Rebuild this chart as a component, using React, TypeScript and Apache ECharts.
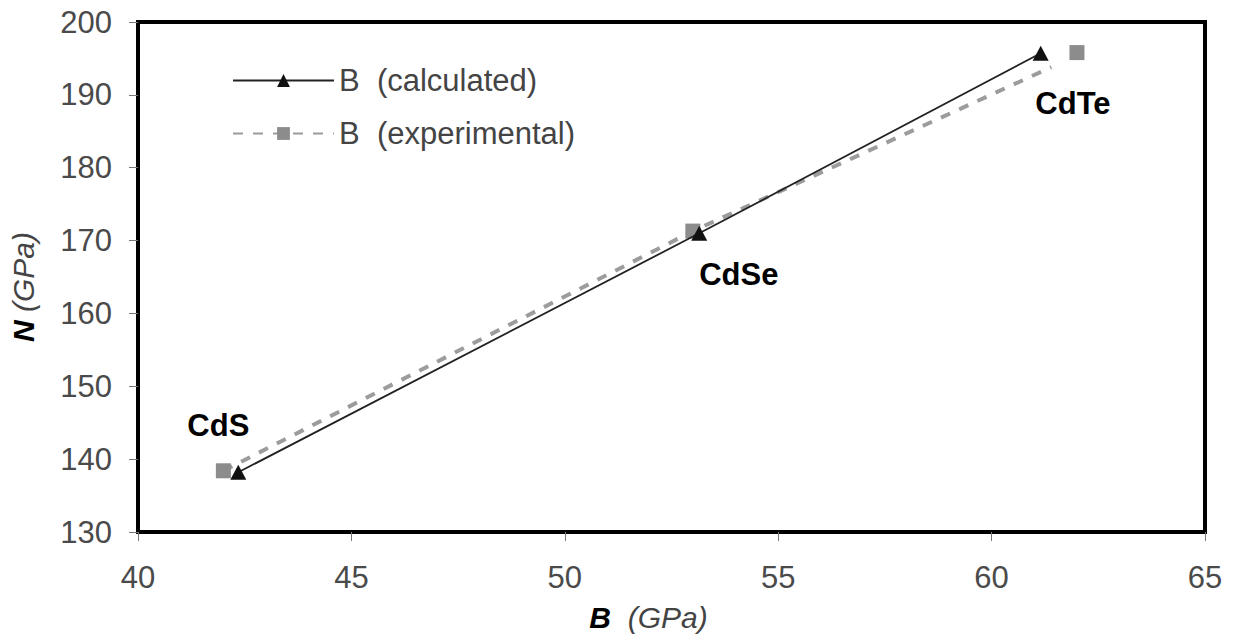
import React, { useEffect, useRef } from "react";
import * as echarts from "echarts";

const compounds = ["CdS", "CdSe", "CdTe"];
const calcB = [42.35, 53.15, 61.15];
const calcN = [138.2, 171.0, 195.7];
const expB = [42.0, 53.0, 62.0];
const expN = [138.4, 171.3, 195.8];
// end of the dashed experimental trend line (it stops short of the CdTe point)
const expLineEnd = [61.4, 193.8];
const xTicks = { min: 40, max: 65, interval: 5 };
const yTicks = { min: 130, max: 200, interval: 10 };
const labelOffsets: number[][] = [
  [-5, -45],
  [46, 43],
  [-4, 51],
];

const FONT = "'Liberation Sans', Arial, sans-serif";

export default function App() {
  const ref = useRef<HTMLDivElement>(null);
  useEffect(() => {
    if (!ref.current) return;
    const chart = echarts.init(ref.current, undefined, { renderer: "svg" });
    const labelFor = (i: number) => ({
      show: true,
      formatter: compounds[i],
      position: "inside",
      offset: labelOffsets[i],
      fontFamily: FONT,
      fontWeight: "bold",
      fontSize: 31,
      color: "#000",
    });
    const expData: any[] = [
      { value: [expB[0], expN[0]], label: labelFor(0) },
      { value: [expB[1], expN[1]], label: labelFor(1) },
      { value: expLineEnd, symbol: "none" },
      { value: ["-", "-"] },
      { value: [expB[2], expN[2]], label: labelFor(2) },
    ];
    const calcData = calcB.map((b, i) => [b, calcN[i]]);
    chart.setOption({
      animation: false,
      backgroundColor: "#fff",
      textStyle: { fontFamily: FONT },
      grid: {
        left: 137,
        right: 31,
        top: 22,
        bottom: 109,
        show: true,
        borderColor: "#000",
        borderWidth: 4,
        backgroundColor: "transparent",
      },
      legend: {
        orient: "vertical",
        left: 227,
        top: 60,
        itemWidth: 101,
        itemHeight: 16,
        itemGap: 22,
        data: ["B (calculated)", "B (experimental)"],
        formatter: (n: string) => n.replace(" (", "\u00a0\u00a0("),
        textStyle: { fontFamily: FONT, fontSize: 31, color: "#444" },
      },
      xAxis: {
        type: "value",
        min: xTicks.min,
        max: xTicks.max,
        interval: xTicks.interval,
        name: "{b|B}{u|\u00a0\u00a0(GPa)}",
        nameLocation: "middle",
        nameGap: 70,
        nameTextStyle: {
          padding: [0, 46, 0, 0],
          rich: {
            b: { fontFamily: FONT, fontSize: 30, fontWeight: "bold", fontStyle: "italic", color: "#000" },
            u: { fontFamily: FONT, fontSize: 30, fontStyle: "italic", color: "#444" },
          },
        },
        axisLine: { show: false },
        axisTick: { show: true, length: 9, lineStyle: { color: "#777", width: 1 } },
        axisLabel: { fontFamily: FONT, fontSize: 31, color: "#4a4a4a", margin: 30 },
        splitLine: { show: false },
      },
      yAxis: {
        type: "value",
        min: yTicks.min,
        max: yTicks.max,
        interval: yTicks.interval,
        name: "{b|N}{u|\u00a0(GPa)}",
        nameLocation: "middle",
        nameGap: 100,
        nameRotate: 90,
        nameTextStyle: {
          padding: [0, 20, 0, 0],
          rich: {
            b: { fontFamily: FONT, fontSize: 30, fontWeight: "bold", fontStyle: "italic", color: "#000" },
            u: { fontFamily: FONT, fontSize: 30, fontStyle: "italic", color: "#444" },
          },
        },
        axisLine: { show: false },
        axisTick: { show: true, length: 9, lineStyle: { color: "#777", width: 1 } },
        axisLabel: { fontFamily: FONT, fontSize: 31, color: "#4a4a4a", margin: 26 },
        splitLine: { show: false },
      },
      series: [
        {
          name: "B (calculated)",
          type: "line",
          data: calcData,
          symbol: "triangle",
          symbolSize: [16, 15],
          itemStyle: { color: "#111" },
          lineStyle: { color: "#222", width: 1.8, type: "solid" },
          z: 3,
        },
        {
          name: "B (experimental)",
          type: "line",
          data: expData,
          connectNulls: false,
          symbol: "rect",
          symbolSize: 15,
          itemStyle: { color: "#8c8c8c" },
          lineStyle: { color: "#9c9c9c", width: 4, type: [10, 10] },
          z: 2,
        },
      ],
    });
    return () => chart.dispose();
  }, []);
  return (
    <div
      ref={ref}
      style={{ position: "absolute", left: 0, top: 0, width: 1236, height: 641 }}
    />
  );
}
